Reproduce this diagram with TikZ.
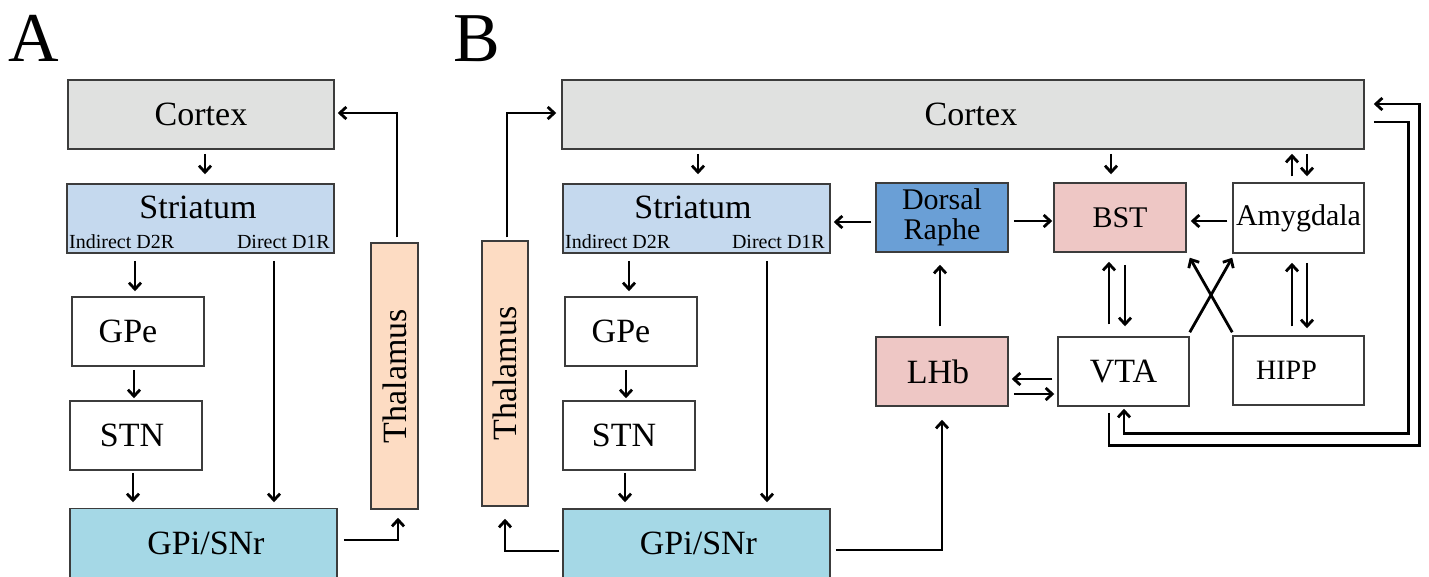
\documentclass[tikz,border=0pt]{standalone}
\usepackage{fontspec}
\setmainfont{Liberation Serif}
\usetikzlibrary{arrows.meta,calc}
\definecolor{ctxc}{HTML}{E0E1E0}
\definecolor{strc}{HTML}{C5D9EE}
\definecolor{gpic}{HTML}{A5D8E6}
\definecolor{thc}{HTML}{FDDCC3}
\definecolor{drc}{HTML}{6A9FD6}
\definecolor{pinkc}{HTML}{EEC7C5}
\definecolor{boxc}{HTML}{3C3C3C}
\begin{document}
\begin{tikzpicture}[x=1pt,y=-1pt,
  box/.style={draw=boxc, line width=1.5pt, inner sep=0pt, font=\fontsize{34}{40}\selectfont},
  mid/.style={font=\fontsize{30}{34}\selectfont, align=center},
  small/.style={inner sep=0pt, font=\fontsize{20}{24}\selectfont},
  big/.style={inner sep=0pt, font=\fontsize{34}{40}\selectfont},
  panel/.style={inner sep=0pt, font=\fontsize{70}{80}\selectfont},
  arr/.style={line width=2.8pt, -{Straight Barb[length=6.5pt,width=12pt]}}]
\fill[white] (0,0) rectangle (1429,576);
\useasboundingbox (0,0) rectangle (1429,576);

% ---------- Panel A ----------
\node[panel] (labA) at (34,38.5) {A};
\node[box, fill=ctxc, minimum width=266pt, minimum height=69pt] (ctxA) at (201,114.5) {Cortex};
\node[box, fill=strc, minimum width=267pt, minimum height=69pt] (strA) at (200.5,218.5) {};
\node[big, anchor=base] (strAt) at (198,218) {Striatum};
\node[small, anchor=base west] (indA) at (69,248) {Indirect D2R};
\node[small, anchor=base east] (dirA) at (330,248) {Direct D1R};
\node[box, fill=white, minimum width=132pt, minimum height=69pt] (gpeA) at (138,331.5) {GPe\hspace*{20pt}};
\node[box, fill=white, minimum width=132pt, minimum height=69pt] (stnA) at (136,435.5) {STN\hspace*{8pt}};
\node[box, fill=gpic, minimum width=267pt, minimum height=69pt] (gpiA) at (203.5,543) {\hspace*{5pt}GPi/SNr};
\node[box, fill=thc, minimum width=47pt, minimum height=266pt] (thA) at (394.5,376) {\rotatebox{90}{Thalamus}};

\draw[arr] ($(ctxA.south)+(4,4)$) -- ($(strA.north)+(4.5,-9)$);
\draw[arr] ($(strA.south)+(-65.5,7)$) -- ($(gpeA.north)+(-3,-5)$);
\draw[arr] ($(gpeA.south)+(-4,3)$) -- ($(stnA.north)+(-2,-2)$);
\draw[arr] ($(stnA.south)+(-3,2)$) -- ($(gpiA.north)+(-70.5,-5.5)$);
\draw[arr] ($(strA.south)+(73.5,7)$) -- ($(gpiA.north)+(70.5,-5.5)$);
\draw[arr] ($(thA.north)+(2.5,-5)$) |- ($(ctxA.east)+(3,-1.5)$);
\draw[arr] ($(gpiA.east)+(6,-3)$) -| ($(thA.south)+(3.5,8)$);

% ---------- Panel B ----------
\node[panel] (labB) at (477,38.5) {B};
\node[box, fill=ctxc, minimum width=802pt, minimum height=69pt] (ctxB) at (963,114.5) {\hspace*{16pt}Cortex};
\node[box, fill=strc, minimum width=267pt, minimum height=69pt] (strB) at (696.5,218.5) {};
\node[big, anchor=base] (strBt) at (693,218) {Striatum};
\node[small, anchor=base west] (indB) at (565,248) {Indirect D2R};
\node[small, anchor=base east] (dirB) at (825,248) {Direct D1R};
\node[box, fill=white, minimum width=132pt, minimum height=69pt] (gpeB) at (631,331.5) {GPe\hspace*{20pt}};
\node[box, fill=white, minimum width=132pt, minimum height=69pt] (stnB) at (629,435.5) {STN\hspace*{10pt}};
\node[box, fill=gpic, minimum width=267pt, minimum height=69pt] (gpiB) at (696.5,543.5) {\hspace*{4pt}GPi/SNr};
\node[box, fill=thc, minimum width=46pt, minimum height=265pt] (thB) at (505,373.5) {\rotatebox{90}{Thalamus}};
\node[box, mid, fill=drc, minimum width=132pt, minimum height=69pt] (dr) at (942,217.5) {Dorsal\\[-4pt]Raphe};
\node[box, mid, fill=pinkc, minimum width=132pt, minimum height=69pt] (bst) at (1120,217.5) {BST};
\node[box, mid, fill=white, minimum width=131pt, minimum height=70pt] (amy) at (1298.5,218) {Amygdala};
\node[box, fill=pinkc, minimum width=132pt, minimum height=69pt] (lhb) at (942,371.5) {LHb\hspace*{8pt}};
\node[box, fill=white, minimum width=131pt, minimum height=69pt] (vta) at (1123.5,371.5) {VTA};
\node[box, fill=white, minimum width=131pt, minimum height=69pt, font=\fontsize{28}{32}\selectfont] (hipp) at (1298.5,370.5) {HIPP\hspace*{24pt}};

% striatal circuit
\draw[arr] ($(ctxB.south -| strB.north)+(1.5,4)$) -- ($(strB.north)+(1.5,-9)$);
\draw[arr] ($(strB.south)+(-67.5,7)$) -- ($(gpeB.north)+(-2,-5)$);
\draw[arr] ($(gpeB.south)+(-5,3)$) -- ($(stnB.north)+(-3,-2)$);
\draw[arr] ($(stnB.south)+(-4,2)$) -- ($(gpiB.north)+(-71.5,-6)$);
\draw[arr] ($(strB.south)+(70.5,7)$) -- ($(gpiB.north)+(70.5,-6)$);
\draw[arr] ($(thB.north)+(2,-3)$) |- ($(ctxB.west)+(-5,-1.5)$);
\draw[arr] ($(gpiB.west)+(-3,7.5)$) -| ($(thB.south)+(0,12)$);
\draw[arr] ($(gpiB.east)+(5,6.5)$) -| ($(lhb.south)+(0,13)$);

% cortex to BST / amygdala
\draw[arr] ($(ctxB.south -| bst.north)+(-9,4)$) -- ($(bst.north)+(-9,-8)$);
\draw[arr] ($(amy.north)+(-6.5,-6)$) -- ($(ctxB.south -| amy.north)+(-6.5,4)$);
\draw[arr] ($(ctxB.south -| amy.north)+(8.5,4)$) -- ($(amy.north)+(8.5,-6)$);

% horizontal arrows
\draw[arr] ($(dr.west)+(-4,4.5)$) -- ($(strB.east)+(3,3.5)$);
\draw[arr] ($(dr.east)+(5,3.5)$) -- ($(bst.west)+(-1,3.5)$);
\draw[arr] ($(amy.west)+(-5,3)$) -- ($(bst.east)+(4,3.5)$);
\draw[arr] ($(vta.west)+(-5,7.5)$) -- ($(lhb.east)+(3,7.5)$);
\draw[arr] ($(lhb.east)+(5,22.5)$) -- ($(vta.west)+(-3,22.5)$);

% vertical arrows
\draw[arr] ($(lhb.north)+(-2,-10)$) -- ($(dr.south)+(-2,12)$);
\draw[arr] ($(vta.north)+(-14.5,-12)$) -- ($(bst.south)+(-11,9)$);
\draw[arr] ($(bst.south)+(5,12)$) -- ($(vta.north)+(1.5,-10)$);
\draw[arr] ($(hipp.north)+(-6.5,-9)$) -- ($(amy.south)+(-6.5,9)$);
\draw[arr] ($(amy.south)+(8.5,9)$) -- ($(hipp.north)+(8.5,-7)$);

% cross
\draw[arr] ($(vta.north east)+(0,-4)$) -- ($(amy.south west)+(0,4)$);
\draw[arr] ($(hipp.north west)+(0,-3)$) -- ($(bst.south east)+(3,5)$);

% loops
\draw[arr] ($(vta.south)+(-14.5,6)$) -- ++(0,33) -| ($(ctxB.east)+(55,-10.5)$) -- ($(ctxB.east)+(9,-10.5)$);
\draw[arr] ($(ctxB.east)+(9,7.5)$) -- ($(ctxB.east)+(44,7.5)$) |- ($(vta.south)+(0.5,27)$) -- ($(vta.south)+(0.5,2)$);
\end{tikzpicture}
\end{document}
